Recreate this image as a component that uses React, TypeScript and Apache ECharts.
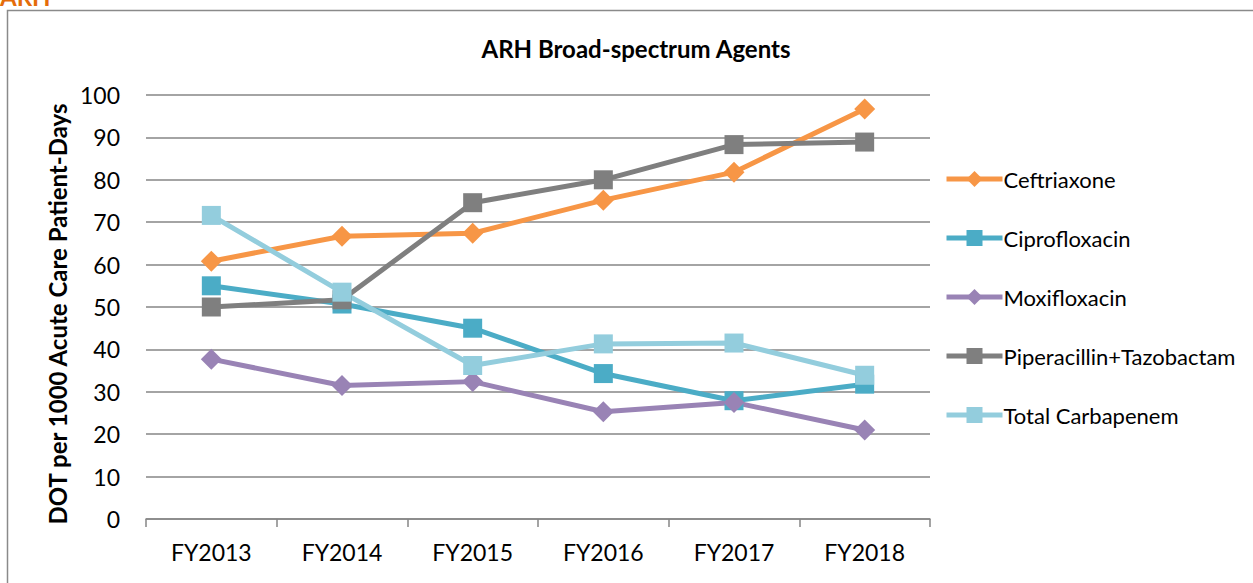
import React, { useEffect, useRef } from "react";
import * as echarts from "echarts";

const categories = ["FY2013", "FY2014", "FY2015", "FY2016", "FY2017", "FY2018"];
const ceftriaxone = [60.8, 66.7, 67.4, 75.2, 81.8, 96.7];
const ciprofloxacin = [55.0, 50.7, 45.0, 34.3, 27.9, 31.8];
const moxifloxacin = [37.7, 31.5, 32.4, 25.3, 27.5, 21.0];
const piperacillin = [50.0, 51.7, 74.6, 80.0, 88.3, 88.9];
const carbapenem = [71.6, 53.5, 36.2, 41.3, 41.5, 33.9];
const yTicks = { min: 0, max: 100, interval: 10 };

const FONT = "Lato, 'Open Sans', sans-serif";

export default function App() {
  const ref = useRef<HTMLDivElement>(null);
  useEffect(() => {
    if (!ref.current) return;
    const chart = echarts.init(ref.current, undefined, { renderer: "svg" });
    const mk = (name: string, data: number[], color: string, symbol: string, size: number) => ({
      name,
      type: "line",
      data,
      symbol,
      symbolSize: size,
      lineStyle: { color, width: 5 },
      itemStyle: { color },
      z: 3,
    });
    chart.setOption({
      animation: false,
      backgroundColor: "#ffffff",
      textStyle: { fontFamily: FONT },
      title: {
        text: "ARH Broad-spectrum Agents",
        left: 631,
        textAlign: "center",
        top: 31,
        textStyle: { fontSize: 24, fontWeight: "bold", color: "#000", fontFamily: FONT },
      },
      grid: { left: 146, right: 323, top: 95, bottom: 64, containLabel: false },
      legend: {
        orient: "vertical",
        left: 944,
        top: 168,
        padding: 0,
        itemWidth: 56,
        itemHeight: 20,
        itemGap: 37,
        lineStyle: { width: 5 },
        textStyle: { fontSize: 22, color: "#000", fontFamily: FONT, padding: [0, 0, 0, -4] },
        data: ["Ceftriaxone", "Ciprofloxacin", "Moxifloxacin", "Piperacillin+Tazobactam", "Total Carbapenem"],
      },
      xAxis: {
        type: "category",
        data: categories,
        boundaryGap: true,
        axisLine: { lineStyle: { color: "#868686", width: 1.5 } },
        axisTick: { show: true, length: 8, lineStyle: { color: "#868686", width: 1.5 } },
        axisLabel: { fontSize: 23, color: "#000", margin: 21, fontFamily: FONT },
      },
      yAxis: {
        type: "value",
        min: yTicks.min,
        max: yTicks.max,
        interval: yTicks.interval,
        name: "DOT per 1000 Acute Care Patient-Days",
        nameLocation: "middle",
        nameRotate: 90,
        nameGap: 73,
        nameTextStyle: { fontSize: 24, fontWeight: "bold", color: "#000", fontFamily: FONT, padding: [0, 14, 0, 0] },
        axisLine: { show: false },
        axisTick: { show: false },
        splitLine: { lineStyle: { color: "#868686", width: 1.5 } },
        axisLabel: { fontSize: 23, color: "#000", margin: 26, fontFamily: FONT },
      },
      graphic: [
        {
          type: "rect",
          shape: { x: 7.5, y: 10.5, width: 1300, height: 700 },
          style: { fill: "none", stroke: "#8a8a8a", lineWidth: 1.5 },
          silent: true,
        },
        {
          type: "text",
          x: 0,
          y: -16,
          style: { text: "ARH", fill: "#E46C0A", font: `bold 24px ${FONT}` },
          silent: true,
        },
      ],
      series: [
        mk("Ceftriaxone", ceftriaxone, "#F79646", "diamond", 21),
        mk("Ciprofloxacin", ciprofloxacin, "#4BACC6", "rect", 19),
        mk("Moxifloxacin", moxifloxacin, "#9983B5", "diamond", 21),
        mk("Piperacillin+Tazobactam", piperacillin, "#7F7F7F", "rect", 19),
        mk("Total Carbapenem", carbapenem, "#93CDDD", "rect", 19),
      ],
    });
    return () => chart.dispose();
  }, []);
  return <div ref={ref} style={{ position: "fixed", left: 0, top: 0, width: 1253, height: 583 }} />;
}
